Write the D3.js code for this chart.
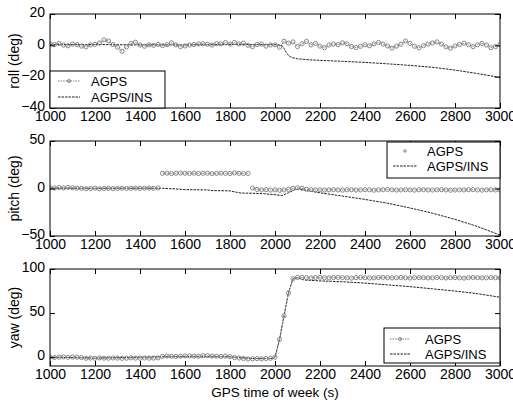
<!DOCTYPE html>
<html><head><meta charset="utf-8">
<script src="https://cdn.jsdelivr.net/npm/d3@7"></script>
<style>body{margin:0;background:#fff}svg{display:block}</style></head>
<body><svg id="c" width="513" height="405"></svg>
<script>
// ---------- data ----------
const timeTicks = [1000,1200,1400,1600,1800,2000,2200,2400,2600,2800,3000];
const agpsTime = d3.range(1000, 3001, 20); // AGPS sample epochs (s)

const rollTicks = [20,0,-20,-40];
const pitchTicks = [50,0,-50];
const yawTicks = [100,50,0];

const rollAgps = [1.0,0.5,1.2,0.2,-0.3,0.8,0.4,-0.5,-1.0,0.3,
  0.6,1.5,3.5,2.8,0.5,-1.2,-3.8,-1.0,1.2,2.0,
  0.2,-0.6,0.3,0.0,0.6,-0.2,0.4,1.6,0.3,-0.8,
  -0.4,0.2,0.5,0.9,1.0,0.7,0.2,1.1,0.9,1.8,
  0.8,1.9,0.9,1.4,0.0,-0.8,0.5,0.8,-0.5,0.2,
  0.3,-1.2,2.6,1.4,2.2,-0.8,1.0,2.5,0.3,1.2,
  -0.5,-1.5,0.2,0.8,0.4,1.6,1.0,-0.8,-1.4,-0.6,
  0.4,-0.3,0.9,1.8,0.8,-0.4,-1.8,-0.5,0.7,2.8,
  1.2,-0.6,-1.6,-0.2,0.8,1.5,2.2,0.8,-1.0,-1.8,
  -0.4,0.6,1.4,0.4,-0.8,0.3,1.2,0.2,-1.5,-0.8,0.6];
const rollInsTime = [1000,1200,1400,1600,1800,2000,2030,2040,2050,2060,2075,2100,2150,2200,2300,2400,2500,2600,2700,2800,2900,3000];
const rollIns = [0.5,0.5,0.3,0.3,0.5,0.5,0,-2,-4.5,-6.5,-7.8,-8.6,-9.2,-9.6,-10.2,-10.9,-11.8,-12.8,-14,-15.8,-18,-20.5];

const pitchAgps = [0.8,0.5,1.0,0.6,1.2,0.8,0.4,0.2,-0.2,0.0,
  0.3,-0.3,0.0,0.2,-0.1,0.1,0.3,0.0,0.2,0.4,
  0.1,0.3,0.5,0.2,0.6,
  16.0,16.2,15.8,16.1,16.3,16.0,15.9,16.2,15.7,16.0,
  16.1,15.6,15.9,16.2,16.0,15.8,16.4,16.0,15.7,15.9,
  0.5,-1.0,-1.5,-1.2,-1.6,-1.4,-1.8,-1.5,-1.0,0.2,
  0.8,0.2,-0.8,-1.2,-1.5,-1.3,-1.6,-1.4,-1.2,-1.5,
  -1.7,-1.4,-1.3,-1.6,-1.5,-1.2,-1.4,-1.8,-1.5,-1.3,
  -1.0,-1.4,-1.6,-1.5,-1.3,-1.5,-1.7,-1.4,-1.2,-1.5,
  -1.6,-1.4,-1.3,-1.5,-1.8,-1.6,-1.4,-1.5,-1.3,-1.2,
  -1.5,-1.7,-1.4,-1.3,-1.5,-1.4];
const pitchInsTime = [1000,1200,1400,1500,1560,1600,1700,1720,1800,1830,1850,1900,1950,2000,2030,2060,2090,2110,2150,2200,2300,2400,2500,2600,2700,2800,2900,3000];
const pitchIns = [0.3,0.2,0.3,0.2,-0.5,-1.2,-1.5,-2.2,-2.5,-4.0,-4.8,-5.0,-5.5,-6.5,-7.5,-4.5,-1.0,-0.5,-2.5,-4.5,-8,-11.5,-15.5,-20.5,-26,-32.5,-40,-49];

const yawAgps = [0.2,-0.3,0.0,0.3,-0.2,0.1,0.0,-0.4,
  -1.2,-1.0,-1.3,-0.8,-1.1,-1.2,-0.9,-1.0,-1.3,-1.1,-0.8,-1.0,-1.2,-0.9,-1.1,-1.0,-0.8,
  1.0,1.3,1.1,0.8,1.2,1.5,1.4,1.2,1.0,1.6,1.8,1.3,1.1,0.9,1.2,0.6,
  -0.5,-1.0,-1.5,-2.0,-1.8,-1.6,-1.8,-1.5,-1.2,
  0,20,47,73,89,90.5,
  90.5,90.2,89.8,90.4,90.6,90.1,89.9,90.3,90.5,90.2,
  90.0,89.7,90.2,90.4,90.1,89.8,90.0,90.3,90.5,90.2,
  89.9,90.1,90.4,90.0,89.8,90.2,90.3,90.1,89.9,90.0,
  90.4,90.2,89.8,90.1,90.3,90.0,89.7,90.2,90.4,90.1,
  89.9,90.0,90.3,90.1,89.8];
const yawInsTime = [1000,1200,1500,1800,1900,1990,2000,2020,2040,2060,2080,2100,2130,2200,2300,2400,2500,2600,2700,2800,2900,3000];
const yawIns = [0,-1,0.5,0.5,-1.5,-1.5,0,20,47,73,89,90,87.5,86.5,85.5,84,82,80,77.5,75,72,68];

const seriesNames = ["AGPS", "AGPS/INS"];

// ---------- layout ----------
const svg = d3.select("#c");
const FONT = "'Liberation Sans', Arial, Helvetica, sans-serif";
const x = d3.scaleLinear().domain([1000, 3000]).range([50, 500]);

const panels = [
  {top:14, bottom:108, domain:[-40,20], ticks:rollTicks, label:"roll (deg)", agps:rollAgps, insT:rollInsTime, ins:rollIns, maxJump:Infinity,
   legend:{x0:50, y0:71, x1:165, y1:108, sx0:58, sx1:80, tx:91, ty:[86,102], agpsMode:"line"}},
  {top:141, bottom:236, domain:[-50,50], ticks:pitchTicks, label:"pitch (deg)", agps:pitchAgps, insT:pitchInsTime, ins:pitchIns, maxJump:8,
   legend:{x0:387, y0:142, x1:500, y1:178, sx0:393, sx1:417, tx:427, ty:[156,171], agpsMode:"point"}},
  {top:269, bottom:366, domain:[-10,100], ticks:yawTicks, label:"yaw (deg)", agps:yawAgps, insT:yawInsTime, ins:yawIns, maxJump:Infinity,
   legend:{x0:384, y0:328, x1:500, y1:363, sx0:390, sx1:410, tx:425, ty:[344,359], agpsMode:"line"}}
];

const agpsColor = "#7e7e7e";

panels.forEach(p => {
  const y = d3.scaleLinear().domain(p.domain).range([p.bottom, p.top]);
  const g = svg.append("g");

  const cid = "clip" + p.top;
  svg.append("clipPath").attr("id", cid).append("rect")
    .attr("x", 50).attr("y", p.top).attr("width", 450).attr("height", p.bottom - p.top);

  const plot = g.append("g").attr("clip-path", `url(#${cid})`);

  // AGPS/INS line
  const insData = p.insT.map((t, i) => [t, p.ins[i]]);
  plot.append("path").datum(insData)
    .attr("d", d3.line().x(d => x(d[0])).y(d => y(d[1])))
    .attr("fill", "none").attr("stroke", "#222").attr("stroke-width", 1)
    .attr("stroke-dasharray", "2.5,1");

  // AGPS: split into segments at large jumps
  const pts = agpsTime.map((t, i) => [t, p.agps[i]]);
  const segs = [];
  let cur = [];
  pts.forEach((d, i) => {
    if (i > 0 && Math.abs(d[1] - pts[i-1][1]) > p.maxJump) { segs.push(cur); cur = []; }
    cur.push(d);
  });
  segs.push(cur);
  segs.forEach(s => {
    plot.append("path").datum(s)
      .attr("d", d3.line().x(d => x(d[0])).y(d => y(d[1])))
      .attr("fill", "none").attr("stroke", agpsColor).attr("stroke-width", 0.9)
      .attr("stroke-dasharray", "1.5,1");
  });
  plot.selectAll("circle.m").data(pts).join("circle")
    .attr("cx", d => x(d[0])).attr("cy", d => y(d[1])).attr("r", 2.1)
    .attr("fill", "none").attr("stroke", agpsColor).attr("stroke-width", 0.9);

  // frame
  g.append("rect").attr("x", 50).attr("y", p.top).attr("width", 450).attr("height", p.bottom - p.top)
    .attr("fill", "none").attr("stroke", "#000").attr("stroke-width", 1);

  const styleAxis = sel => {
    sel.select(".domain").remove();
    sel.selectAll("line").attr("stroke", "#000");
    sel.selectAll("text").attr("font-family", FONT).attr("font-size", 14).attr("fill", "#000");
  };
  g.append("g").attr("transform", `translate(0,${p.bottom})`)
    .call(d3.axisBottom(x).tickValues(timeTicks).tickSize(-5).tickPadding(3).tickFormat(d3.format("d")))
    .call(styleAxis);
  g.append("g").attr("transform", `translate(0,${p.top})`)
    .call(d3.axisTop(x).tickValues(timeTicks).tickSize(-5).tickFormat(""))
    .call(styleAxis);
  const yl = g.append("g").attr("transform", `translate(50,0)`)
    .call(d3.axisLeft(y).tickValues(p.ticks).tickSize(-5).tickPadding(5).tickFormat(d3.format("d")))
    .call(styleAxis);
  yl.selectAll("text").attr("dy", "0.2em");
  g.append("g").attr("transform", `translate(500,0)`)
    .call(d3.axisRight(y).tickValues(p.ticks).tickSize(-5).tickFormat(""))
    .call(styleAxis);

  g.append("text")
    .attr("transform", `translate(19,${(p.top + p.bottom) / 2}) rotate(-90)`)
    .attr("text-anchor", "middle").attr("font-family", FONT).attr("font-size", 14)
    .text(p.label);

  // legend
  const L = p.legend;
  const lg = g.append("g");
  lg.append("rect").attr("x", L.x0).attr("y", L.y0).attr("width", L.x1 - L.x0).attr("height", L.y1 - L.y0)
    .attr("fill", "#fff").attr("stroke", "#000").attr("stroke-width", 1);
  seriesNames.forEach((name, i) => {
    const cy = L.ty[i] - 5;
    if (i === 0) {
      if (L.agpsMode === "line") {
        lg.append("line").attr("x1", L.sx0).attr("x2", L.sx1).attr("y1", cy).attr("y2", cy)
          .attr("stroke", agpsColor).attr("stroke-width", 1).attr("stroke-dasharray", "1.5,1");
        lg.append("circle").attr("cx", (L.sx0 + L.sx1) / 2).attr("cy", cy).attr("r", 1.5)
          .attr("fill", "none").attr("stroke", agpsColor);
      } else {
        lg.append("circle").attr("cx", (L.sx0 + L.sx1) / 2).attr("cy", cy).attr("r", 1.2)
          .attr("fill", "none").attr("stroke", agpsColor);
      }
    } else {
      lg.append("line").attr("x1", L.sx0).attr("x2", L.sx1).attr("y1", cy).attr("y2", cy)
        .attr("stroke", "#222").attr("stroke-width", 1).attr("stroke-dasharray", "2.5,1");
    }
    lg.append("text").attr("x", L.tx).attr("y", L.ty[i])
      .attr("font-family", FONT).attr("font-size", 13).text(name);
  });
});

svg.append("text").attr("x", 275).attr("y", 397).attr("text-anchor", "middle")
  .attr("font-family", FONT).attr("font-size", 13.5).text("GPS time of week (s)");
</script>
</body></html>
